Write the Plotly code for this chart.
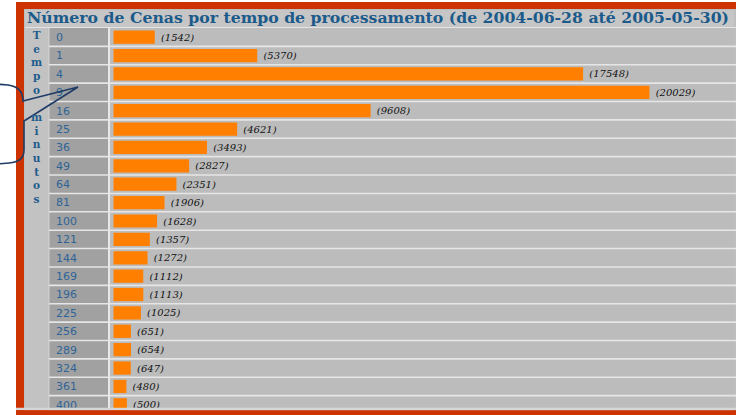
import plotly.graph_objects as go

# ---- data ----
categories = ["0", "1", "4", "9", "16", "25", "36", "49", "64", "81", "100",
              "121", "144", "169", "196", "225", "256", "289", "324", "361", "400"]
counts = [1542, 5370, 17548, 20029, 9608, 4621, 3493, 2827, 2351, 1906, 1628,
          1357, 1272, 1112, 1113, 1025, 651, 654, 647, 480, 500]
title_text = "Número de Cenas por tempo de processamento (de 2004-06-28 até 2005-05-30)"
side_label = "Tempo minutos"

W, H = 736, 415
L, R, T, B = 110, 733, 28, 413.8


def px(x):
    return (x - L) / (R - L)


def py(y):
    return (B - y) / (B - T)


def rect(x0, y0, x1, y1, color, layer="below"):
    return dict(type="rect", xref="paper", yref="paper",
                x0=px(x0), x1=px(x1), y0=py(y1), y1=py(y0),
                fillcolor=color, line=dict(width=0), layer=layer)


def hline(x0, x1, y, color, width, layer="below"):
    return dict(type="line", xref="paper", yref="paper",
                x0=px(x0), x1=px(x1), y0=py(y), y1=py(y),
                line=dict(color=color, width=width), layer=layer)


def vline(x, y0, y1, color, width, layer="below"):
    return dict(type="line", xref="paper", yref="paper",
                x0=px(x), x1=px(x), y0=py(y0), y1=py(y1),
                line=dict(color=color, width=width), layer=layer)


shapes = [
    rect(16, 2, 740, 420, "#CC3300"),
    rect(24, 9, 738, 410, "#BEBEBE"),
    rect(25, 10, 734, 27, "#C6C6C6"),
    rect(25, 28, 49, 410, "#C2C2C2"),
    rect(49, 28, 108, 416, "#A1A1A1"),
    rect(110, 28, 734, 416, "#BCBCBC"),
    hline(25, 736, 27.5, "#E4E4E4", 1.2),
    vline(109, 28, 410, "#E8E8E8", 2),
    vline(49, 28, 410, "#D4D4D4", 1),
]
# row separators at category boundaries
for i in range(len(categories)):
    shapes.append(dict(type="line", xref="paper", yref="y",
                       x0=px(49), x1=px(736), y0=i + 0.5, y1=i + 0.5,
                       line=dict(color="#E6E6E6", width=1.6), layer="below"))
# bottom edge + red band on top of the last row
shapes.append(rect(16, 407.5, 740, 410, "#D6D6D6", layer="above"))
shapes.append(rect(16, 410, 740, 420, "#CC3300", layer="above"))

# callout outline (left)
pts = ("M {a},{b} L {c},{d} Q {e},{f} {g},{h} L {i},{j} L {k},{l} L {m},{n} "
       "Q {o},{p} {q},{r} L {s},{t}")
path = pts.format(
    a=px(-5), b=py(84), c=px(8), d=py(85), e=px(23), f=py(87), g=px(23), h=py(101),
    i=px(78), j=py(87), k=px(24), l=py(121), m=px(24), n=py(150),
    o=px(24), p=py(162), q=px(9), r=py(163), s=px(-5), t=py(164))
shapes.append(dict(type="path", xref="paper", yref="paper", path=path,
                   line=dict(color="#1F3B66", width=1.6), layer="above"))

fig = go.Figure()
fig.add_trace(go.Bar(
    y=categories, x=counts, orientation="h",
    marker=dict(color="#FF7F00", line=dict(width=0)),
    width=0.72,
    text=["\u2008(%d)" % v for v in counts],
    textposition="outside",
    textfont=dict(family="DejaVu Serif", size=10, color="#111111", style="italic"),
    cliponaxis=True,
    hoverinfo="skip",
))

# tick labels padded with figure spaces so they appear left-aligned
tick_text = [c + "\u2007" * (3 - len(c)) for c in categories]

annotations = []
letters = "<br>".join(ch for ch in side_label)
annotations.append(dict(xref="paper", yref="paper", x=px(36), y=py(27),
                        text=letters, showarrow=False, xanchor="center", yanchor="top",
                        align="center",
                        font=dict(family="DejaVu Serif", size=10.5, color="#1F5C8C",
                                  weight="bold")))
annotations.append(dict(xref="paper", yref="paper", x=px(378), y=py(18),
                        text=title_text, showarrow=False, xanchor="center", yanchor="middle",
                        font=dict(family="DejaVu Serif", size=15.7, color="#1B5A8A",
                                  weight="bold")))

fig.update_layout(
    width=W, height=H,
    margin=dict(l=L, r=W - R, t=T, b=H - B, pad=0),
    paper_bgcolor="white", plot_bgcolor="#BCBCBC",
    showlegend=False,
    bargap=0.28,
    xaxis=dict(range=[-131, 23150], visible=False, fixedrange=True),
    yaxis=dict(type="category", range=[len(categories) - 0.5, -0.5],
               tickmode="array", tickvals=categories, ticktext=tick_text,
               ticks="", ticklabelstandoff=32,
               tickfont=dict(family="DejaVu Sans", size=11, color="#2F6497"),
               showgrid=False, zeroline=False, showline=False, fixedrange=True,
               automargin=False),
    shapes=shapes,
    annotations=annotations,
    hovermode=False,
)

fig.write_html("out.html", config={"displayModeBar": False},
               post_script="document.body.style.margin='0px';document.body.style.overflow='hidden';")
